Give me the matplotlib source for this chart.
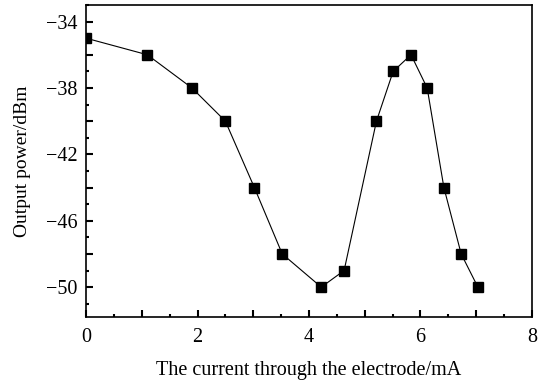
import matplotlib
matplotlib.use('Agg')
import matplotlib.pyplot as plt
from matplotlib.ticker import MultipleLocator, FuncFormatter

# data
current_ma = [0.0, 1.1, 1.9, 2.5, 3.02, 3.52, 4.22, 4.63, 5.21, 5.51, 5.83, 6.12, 6.42, 6.73, 7.03]
power_dbm = [-35.0, -36.0, -38.0, -40.0, -44.0, -48.0, -50.0, -49.0, -40.0, -37.0, -36.0, -38.0, -44.0, -48.0, -50.0]

plt.rcParams['font.family'] = ['Liberation Serif', 'DejaVu Serif']
plt.rcParams['axes.unicode_minus'] = True

fig = plt.figure(figsize=(5.42, 3.83), dpi=100)
ax = fig.add_axes([0.1587, 0.1723, 0.8228, 0.8147])

# first marker sits on the y axis and is cut by it, as in the original
ax.plot(current_ma, power_dbm, color='black', linewidth=0.8,
        marker='s', markersize=7, markerfacecolor='black', markeredgecolor='black',
        clip_on=True, zorder=3)

ax.set_xlim(0, 8)
ax.set_ylim(-51.8, -33.0)

ax.xaxis.set_major_locator(MultipleLocator(1))
ax.xaxis.set_minor_locator(MultipleLocator(0.5))
ax.yaxis.set_major_locator(MultipleLocator(2))
ax.yaxis.set_minor_locator(MultipleLocator(1))

ax.xaxis.set_major_formatter(FuncFormatter(lambda v, p: f'{v:.0f}' if round(v) % 2 == 0 else ''))
ax.yaxis.set_major_formatter(FuncFormatter(
    lambda v, p: f'\u2212{abs(v):.0f}' if (round(v) + 34) % 4 == 0 else ''))

ax.tick_params(which='major', direction='in', length=5, width=1.5, labelsize=14.5, pad=6)
ax.tick_params(axis='x', which='major', pad=8)
ax.tick_params(which='minor', direction='in', length=2, width=1.5)
ax.tick_params(top=False, right=False)

for s in ax.spines.values():
    s.set_linewidth(1.2)

ax.set_xlabel('The current through the electrode/mA', fontsize=14.5, labelpad=10)
ax.set_ylabel('Output power/dBm', fontsize=14, labelpad=11)

fig.savefig('out.png', dpi=100)
